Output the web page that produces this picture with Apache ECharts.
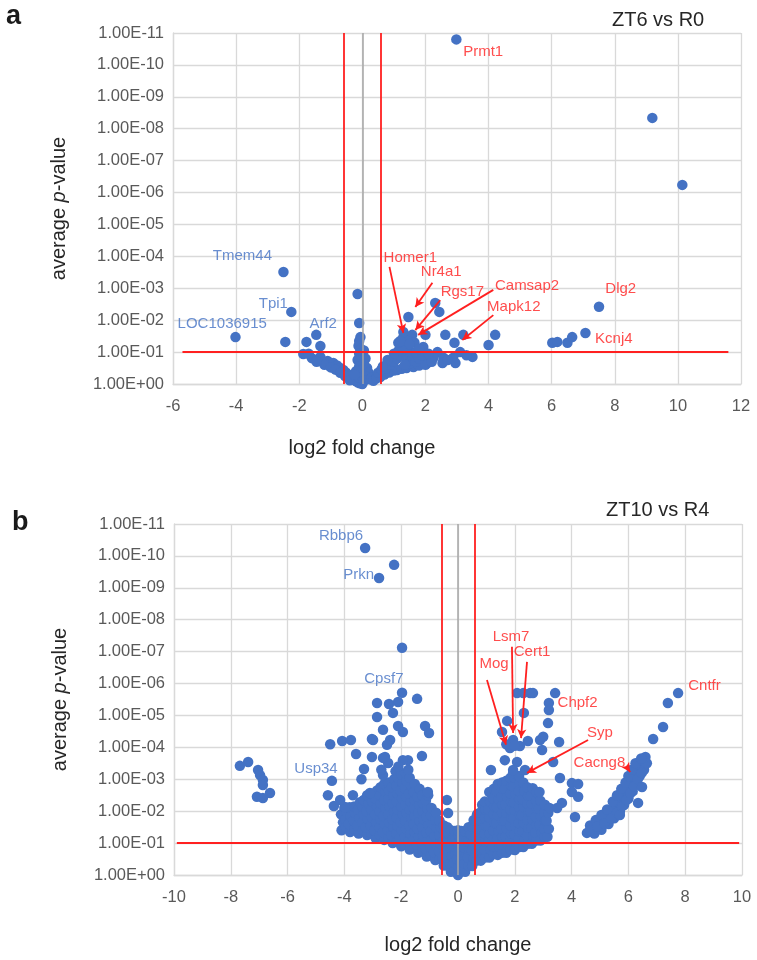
<!DOCTYPE html>
<html>
<head>
<meta charset="utf-8">
<script src="https://cdn.jsdelivr.net/npm/echarts/dist/echarts.min.js"></script>
<style>html,body{margin:0;padding:0;background:#fff;}#c{width:757px;height:960px;}</style>
</head>
<body>
<div id="c"></div>
<script>
// ---------- DATA ----------
// y values are -log10(average p-value)
const yTickLabels = ['1.00E+00','1.00E-01','1.00E-02','1.00E-03','1.00E-04','1.00E-05','1.00E-06','1.00E-07','1.00E-08','1.00E-09','1.00E-10','1.00E-11'];
const xRangeA = [-6, 12];
const xRangeB = [-10, 10];
const foldCut = 0.585;   // log2(1.5)
const pCut = 1;          // p = 0.1
const hLineA = [-5.7, 11.6];
const hLineB = [-9.9, 9.9];

// ZT6 vs R0 : [log2FC, -log10 p]
const pointsA = [
[2.98,10.8],[9.19,8.34],[10.14,6.24],[-2.5,3.51],[-2.25,2.26],[-4.02,1.47],[-2.44,1.32],[-1.46,1.54],[-1.77,1.32],[-1.33,1.19],[-1.87,0.94],[-1.6,0.81],[-1.33,0.85],[-1.1,0.72],[-0.92,0.66],[-0.8,0.58],[-0.7,0.5],[-0.6,0.44],[-0.52,0.36],[-0.45,0.3],[-0.38,0.22],[-0.3,0.15],[-0.22,0.1],[-0.15,0.05],[-0.08,0.02],[0,0],
[-1.2,0.6],[-1.0,0.52],[-0.85,0.45],[-0.7,0.35],[-0.55,0.25],[-0.4,0.12],[-1.45,0.7],[-1.7,0.95],
[-0.15,2.82],[-0.1,1.91],[-0.06,1.47],[-0.1,1.35],[-0.12,1.2],[-0.05,1.1],[0.05,1.05],[-0.1,0.95],[0,0.85],[0.1,0.8],[-0.15,0.75],[0.05,0.65],[-0.1,0.55],[0.15,0.5],[0,0.45],[-0.2,0.4],[0.2,0.35],[0.1,0.25],[-0.1,0.2],[0.05,0.1],[0.25,0.15],[-0.25,0.3],[0.3,0.2],
[0.35,0.1],[0.45,0.18],[0.57,0.22],[0.7,0.3],[0.85,0.36],[1.0,0.42],[1.1,0.44],[1.25,0.48],[1.4,0.5],[1.62,0.53],[1.8,0.58],[2.06,0.66],[2.0,0.6],
[0.5,0.35],[0.6,0.45],[0.75,0.5],[0.9,0.6],[1.0,0.7],[1.1,0.8],[1.2,0.9],[1.3,1.0],[1.15,1.05],[1.0,0.95],[1.4,0.75],[1.5,0.65],[1.6,0.85],[1.7,0.7],[1.8,0.8],[1.55,1.0],[1.7,1.0],[1.4,1.1],[1.25,1.2],[1.14,1.29],[1.3,1.47],[1.58,1.54],[1.45,1.35],[1.65,1.3],[1.3,1.63],[1.46,2.1],[1.93,1.16],[2.0,1.54],[2.31,2.54],[2.44,2.26],[2.63,1.54],[3.2,1.54],[2.92,1.29],[4.0,1.22],[4.21,1.54],[2.38,1.0],[3.1,1.0],[3.49,0.85],[2.57,0.82],[2.88,0.82],[2.25,0.82],[2.54,0.66],[2.95,0.66],[2.2,0.7],[2.7,0.75],[3.3,0.9],[1.9,0.9],[2.1,0.95],
[1.2,1.35],[1.5,1.25],[1.8,1.1],[1.35,0.6],[0.8,0.75],[0.65,0.55],
[6.02,1.29],[6.18,1.32],[6.5,1.29],[6.65,1.47],[7.07,1.6],[7.5,2.42]
];

// ZT10 vs R4 : scattered significant genes
const scatterB = [
[-3.27,10.25],[-2.25,9.72],[-2.78,9.31],[-1.97,7.12],
[-1.97,5.71],[-2.11,5.42],[-2.43,5.36],[-2.85,5.39],[-2.29,5.08],[-1.44,5.52],[-2.85,4.95],[-2.64,4.55],[-2.11,4.67],[-1.94,4.48],[-1.16,4.67],[-1.02,4.45],[-3.03,4.26],[-2.39,4.23],[-2.5,4.08],[-4.5,4.1],[-4.08,4.2],[-3.77,4.23],[-3.59,3.79],[-3.03,3.7],[-3.31,3.32],[-2.57,3.7],[-2.46,3.51],[-1.27,3.73],[-2.64,3.13],[-1.76,3.6],[-3.1,2.57],[-0.39,2.35],[-0.35,1.94],[-1.06,2.6],[-4.58,2.5],[-4.44,2.95],[-4.37,2.16],[-3.98,2.13],
[-2.64,3.67],[-2.99,4.23],[-1.94,3.6],[-2.1,3.4],[-2.7,3.3],[-3.4,3.0],[-3.7,2.5],[-4.15,2.35],
[-7.68,3.42],[-7.39,3.54],[-7.04,3.29],[-6.97,3.13],[-6.87,2.98],[-6.87,2.82],[-6.62,2.57],[-7.08,2.45],[-6.87,2.41],
[7.75,5.7],[7.39,5.39],[7.22,4.64],[6.87,4.26],
[2.08,5.7],[2.3,5.7],[2.54,5.7],[2.64,5.7],[3.42,5.7],[3.2,5.39],[3.2,5.17],[2.32,5.08],[3.17,4.76],[1.73,4.83],[1.55,4.48],[1.94,4.23],[1.83,3.98],[2.18,4.04],[2.46,4.2],[2.89,4.23],[3.0,4.33],[3.56,4.17],[2.96,3.92],[3.35,3.54],[1.65,3.6],[2.08,3.54],[2.36,3.29],[1.94,3.29],[1.16,3.29],[3.59,3.04],[4.01,2.88],[4.23,2.85],[4.01,2.6],[4.23,2.45],[3.66,2.26],[3.49,2.1],[4.12,1.82],[1.7,4.1],[2.0,4.05]
];
// ZT10 vs R4 : dense central cloud
const cloudB = [
[-4.1,1.4],[-4.05,1.65],[-4.12,1.9],[-4.0,2.1],
[-3.95,1.5],[-3.97,1.75],[-3.93,2.0],
[-3.8,1.35],[-3.85,1.6],[-3.78,1.85],[-3.82,2.12],
[-3.65,1.45],[-3.67,1.7],[-3.63,1.95],[-3.66,2.15],
[-3.5,1.3],[-3.55,1.55],[-3.48,1.8],[-3.52,2.05],[-3.45,2.28],
[-3.35,1.4],[-3.37,1.65],[-3.33,1.9],[-3.36,2.15],[-3.32,2.35],
[-3.2,1.25],[-3.25,1.5],[-3.18,1.75],[-3.22,2.0],[-3.15,2.25],[-3.2,2.5],
[-3.05,1.3],[-3.07,1.55],[-3.03,1.8],[-3.06,2.05],[-3.02,2.3],[-3.05,2.55],
[-2.9,1.15],[-2.95,1.4],[-2.88,1.65],[-2.92,1.9],[-2.85,2.15],[-2.9,2.4],[-2.85,2.65],
[-2.75,1.25],[-2.77,1.5],[-2.73,1.75],[-2.76,2.0],[-2.72,2.25],[-2.75,2.5],[-2.73,2.75],
[-2.6,1.1],[-2.65,1.35],[-2.58,1.6],[-2.62,1.85],[-2.55,2.1],[-2.6,2.35],[-2.55,2.6],[-2.6,2.85],
[-2.45,1.15],[-2.47,1.4],[-2.43,1.65],[-2.46,1.9],[-2.42,2.15],[-2.45,2.4],[-2.43,2.65],[-2.46,2.9],
[-2.3,1.0],[-2.35,1.25],[-2.28,1.5],[-2.32,1.75],[-2.25,2.0],[-2.3,2.25],[-2.27,2.5],[-2.33,2.75],[-2.25,3.0],[-2.2,3.25],
[-2.15,1.05],[-2.17,1.3],[-2.13,1.55],[-2.16,1.8],[-2.12,2.05],[-2.15,2.3],[-2.13,2.55],[-2.16,2.8],[-2.12,3.05],
[-2.0,0.9],[-2.05,1.15],[-1.98,1.4],[-2.02,1.65],[-1.95,1.9],[-2.0,2.15],[-1.97,2.4],[-2.03,2.65],[-1.95,2.9],[-2.0,3.15],
[-1.85,0.95],[-1.87,1.2],[-1.83,1.45],[-1.86,1.7],[-1.82,1.95],[-1.85,2.2],[-1.83,2.45],[-1.86,2.7],[-1.82,2.95],[-1.85,3.2],
[-1.7,0.8],[-1.75,1.05],[-1.68,1.3],[-1.72,1.55],[-1.65,1.8],[-1.7,2.05],[-1.67,2.3],[-1.73,2.55],[-1.65,2.8],[-1.7,3.05],[-1.75,3.3],
[-1.55,0.85],[-1.57,1.1],[-1.53,1.35],[-1.56,1.6],[-1.52,1.85],[-1.55,2.1],[-1.53,2.35],[-1.56,2.6],[-1.52,2.85],
[-1.4,0.7],[-1.45,0.95],[-1.38,1.2],[-1.42,1.45],[-1.35,1.7],[-1.4,1.95],[-1.37,2.2],[-1.43,2.45],[-1.35,2.7],
[-1.25,0.75],[-1.27,1.0],[-1.23,1.25],[-1.26,1.5],[-1.22,1.75],[-1.25,2.0],[-1.23,2.25],[-1.26,2.5],
[-1.1,0.58],[-1.15,0.83],[-1.08,1.08],[-1.12,1.33],[-1.05,1.58],[-1.1,1.83],[-1.07,2.08],[-1.13,2.33],[-1.05,2.5],
[-0.95,0.62],[-0.97,0.87],[-0.93,1.12],[-0.96,1.37],[-0.92,1.62],[-0.95,1.87],[-0.93,2.1],
[-0.8,0.47],[-0.85,0.72],[-0.78,0.97],[-0.82,1.22],[-0.75,1.47],[-0.8,1.72],[-0.77,1.95],
[-0.65,0.5],[-0.67,0.75],[-0.63,1.0],[-0.66,1.25],[-0.62,1.5],[-0.65,1.7],
[-0.5,0.3],[-0.55,0.55],[-0.48,0.8],[-0.52,1.05],[-0.45,1.3],[-0.5,1.55],
[-0.37,0.3],[-0.39,0.55],[-0.35,0.8],[-0.38,1.05],[-0.34,1.3],[-0.37,1.5],
[-0.25,0.1],[-0.28,0.35],[-0.22,0.6],[-0.27,0.85],[-0.2,1.1],[-0.25,1.4],
[-0.12,0.15],[-0.14,0.4],[-0.1,0.65],[-0.13,0.9],[-0.09,1.15],[-0.12,1.38],
[0,0],[0.02,0.25],[-0.03,0.5],[0.01,0.75],[-0.02,1.0],[0.03,1.25],[0,1.4],
[0.12,0.15],[0.1,0.4],[0.14,0.65],[0.11,0.9],[0.15,1.15],[0.12,1.38],
[0.25,0.1],[0.22,0.35],[0.28,0.6],[0.24,0.85],[0.3,1.1],[0.25,1.38],
[0.37,0.3],[0.35,0.55],[0.39,0.8],[0.36,1.05],[0.4,1.3],[0.37,1.5],
[0.5,0.28],[0.55,0.53],[0.48,0.78],[0.52,1.03],[0.45,1.28],[0.5,1.53],[0.55,1.72],
[0.65,0.45],[0.63,0.7],[0.67,0.95],[0.64,1.2],[0.68,1.45],[0.65,1.7],[0.67,1.9],
[0.8,0.45],[0.85,0.7],[0.78,0.95],[0.82,1.2],[0.75,1.45],[0.8,1.7],[0.77,1.95],[0.85,2.2],
[0.95,0.55],[0.93,0.8],[0.97,1.05],[0.94,1.3],[0.98,1.55],[0.95,1.8],[0.97,2.05],[0.94,2.3],
[1.1,0.55],[1.15,0.8],[1.08,1.05],[1.12,1.3],[1.05,1.55],[1.1,1.8],[1.07,2.05],[1.13,2.3],[1.1,2.6],
[1.25,0.65],[1.23,0.9],[1.27,1.15],[1.24,1.4],[1.28,1.65],[1.25,1.9],[1.27,2.15],[1.24,2.4],[1.26,2.7],
[1.4,0.63],[1.45,0.88],[1.38,1.13],[1.42,1.38],[1.35,1.63],[1.4,1.88],[1.37,2.13],[1.43,2.38],[1.35,2.63],[1.4,2.85],
[1.55,0.7],[1.53,0.95],[1.57,1.2],[1.54,1.45],[1.58,1.7],[1.55,1.95],[1.57,2.2],[1.54,2.45],[1.58,2.7],[1.55,2.9],
[1.7,0.7],[1.75,0.95],[1.68,1.2],[1.72,1.45],[1.65,1.7],[1.7,1.95],[1.67,2.2],[1.73,2.45],[1.65,2.7],[1.7,2.95],
[1.85,0.8],[1.83,1.05],[1.87,1.3],[1.84,1.55],[1.88,1.8],[1.85,2.05],[1.87,2.3],[1.84,2.55],[1.88,2.8],[1.85,3.05],
[2.0,0.78],[2.05,1.03],[1.98,1.28],[2.02,1.53],[1.95,1.78],[2.0,2.03],[1.97,2.28],[2.03,2.53],[1.95,2.78],[2.0,3.05],[1.94,3.2],
[2.15,0.88],[2.13,1.13],[2.17,1.38],[2.14,1.63],[2.18,1.88],[2.15,2.13],[2.17,2.38],[2.14,2.63],[2.18,2.9],[2.15,3.1],
[2.3,0.88],[2.35,1.13],[2.28,1.38],[2.32,1.63],[2.25,1.88],[2.3,2.13],[2.27,2.38],[2.33,2.63],[2.3,2.9],
[2.45,0.98],[2.43,1.23],[2.47,1.48],[2.44,1.73],[2.48,1.98],[2.45,2.23],[2.47,2.48],[2.44,2.75],
[2.6,0.98],[2.65,1.23],[2.58,1.48],[2.62,1.73],[2.55,1.98],[2.6,2.23],[2.57,2.48],[2.63,2.72],
[2.75,1.08],[2.73,1.33],[2.77,1.58],[2.74,1.83],[2.78,2.08],[2.75,2.33],[2.77,2.6],
[2.9,1.08],[2.95,1.33],[2.88,1.58],[2.92,1.83],[2.85,2.08],[2.9,2.33],[2.87,2.6],
[3.05,1.2],[3.03,1.45],[3.07,1.7],[3.04,1.95],[3.06,2.2],
[3.15,1.2],[3.2,1.45],[3.12,1.7],[3.18,1.95],[3.22,2.1]
];
// ZT10 vs R4 : Cacng8 band
const bandB = [
[4.54,1.32],[4.75,1.45],[4.95,1.6],[5.15,1.75],[5.35,1.92],[5.5,2.1],[5.65,2.28],[5.8,2.48],[5.92,2.68],[6.05,2.88],[6.15,3.08],[6.28,3.28],[6.4,3.45],[6.55,3.58],
[4.8,1.3],[5.05,1.42],[5.3,1.6],[5.5,1.78],[5.7,1.98],[5.85,2.2],[6.0,2.4],[6.15,2.62],[6.3,2.85],[6.4,3.1],[6.55,3.3],[6.65,3.5],
[4.65,1.55],[4.85,1.72],[5.05,1.88],[5.25,2.05],[5.45,2.3],[5.6,2.5],[5.75,2.7],[5.9,2.9],[6.0,3.1],[6.12,3.3],[6.25,3.5],
[4.65,1.4],[4.9,1.52],[5.15,1.62],[5.4,1.78],[5.6,1.95],[5.78,2.15],[5.93,2.35],[6.07,2.56],[6.2,2.78],[6.33,3.0],[6.47,3.2],
[6.34,2.26],[6.48,2.76],[5.7,1.88],[6.6,3.7],[6.45,3.65]
];

// gene labels: [name, x, y, up/down]
const labelsA = [
['Prmt1',3.83,10.41,'up'],['Tmem44',-3.8,4.01,'down'],['Tpi1',-2.82,2.51,'down'],['LOC1036915',-4.44,1.88,'down'],['Arf2',-1.24,1.88,'down'],
['Homer1',1.52,3.95,'up'],['Nr4a1',2.5,3.5,'up'],['Rgs17',3.17,2.9,'up'],['Camsap2',5.22,3.08,'up'],['Mapk12',4.8,2.41,'up'],['Dlg2',8.19,2.99,'up'],['Kcnj4',7.97,1.4,'up']
];
const labelsB = [
['Rbbp6',-4.12,10.64,'down'],['Prkn',-3.5,9.4,'down'],['Cpsf7',-2.61,6.14,'down'],['Usp34',-5.0,3.32,'down'],
['Lsm7',1.87,7.46,'up'],['Cert1',2.61,6.99,'up'],['Mog',1.27,6.62,'up'],['Chpf2',4.21,5.39,'up'],['Syp',5.0,4.45,'up'],['Cacng8',4.98,3.51,'up'],['Cntfr',8.68,5.94,'up']
];
// arrows: [x1, y1, x2, y2]
const arrowsA = [
[0.86,3.67,1.30,1.60],[2.22,3.17,1.68,2.41],[2.47,2.63,1.68,1.69],[4.15,2.95,1.77,1.54],[4.15,2.16,3.17,1.38]
];
const arrowsB = [
[1.02,6.11,1.69,4.08],[1.9,7.15,1.94,4.45],[2.43,6.68,2.22,4.29],[4.58,4.23,2.43,3.2],[5.92,3.42,6.06,3.23]
];

// ---------- STYLE ----------
const FONT = '"Liberation Sans", Arial, sans-serif';
const BLUE = '#4472C4', RED = '#FF2020', GRID = '#d9d9d9', TICK = '#595959', DARK = '#262626';

function xAxis(gi, range, nameGap, pad) {
  return {type:'value', gridIndex:gi, min:range[0], max:range[1], interval:2,
    name:'log2 fold change', nameLocation:'middle', nameGap:nameGap,
    nameTextStyle:{fontSize:20, color:DARK, fontFamily:FONT, padding:pad},
    axisLine:{show:true, onZero:false, lineStyle:{color:GRID, width:1.3}},
    axisTick:{show:false},
    axisLabel:{fontSize:16.5, color:TICK, margin:14, fontFamily:FONT},
    splitLine:{show:true, lineStyle:{color:GRID, width:1.3}}};
}
function yAxis(gi) {
  return {type:'value', gridIndex:gi, min:0, max:11, interval:1,
    name:'{n|average }{i|p}{n|-value}', nameLocation:'middle', nameGap:104, nameRotate:90,
    nameTextStyle:{rich:{n:{fontSize:20, color:DARK, fontFamily:FONT}, i:{fontSize:20, fontStyle:'italic', color:DARK, fontFamily:FONT}}},
    axisLine:{show:true, onZero:false, lineStyle:{color:GRID, width:1.3}},
    axisTick:{show:false},
    axisLabel:{formatter:v => yTickLabels[v], fontSize:16.5, color:TICK, margin:9, fontFamily:FONT},
    splitLine:{show:true, lineStyle:{color:GRID, width:1.3}}};
}
function pointSeries(gi, data) {
  return {type:'scatter', xAxisIndex:gi, yAxisIndex:gi, data:data, symbolSize:10.5,
    itemStyle:{color:BLUE, opacity:1}, z:3, silent:true};
}
function zeroSeries(gi) {
  return {type:'scatter', xAxisIndex:gi, yAxisIndex:gi, data:[[0,0]], symbolSize:0, z:2, silent:true,
    markLine:{silent:true, symbol:'none', label:{show:false}, animation:false,
      lineStyle:{color:'#a6a6a6', width:1.5, type:'solid'},
      data:[[{coord:[0,0]},{coord:[0,11]}]]}};
}
function annoSeries(gi, labels, arrows, hLine) {
  const lines = [
    [{coord:[-foldCut,0]},{coord:[-foldCut,11]}],
    [{coord:[foldCut,0]},{coord:[foldCut,11]}],
    [{coord:[hLine[0],pCut]},{coord:[hLine[1],pCut]}]
  ];
  arrows.forEach(a => lines.push([{coord:[a[0],a[1]], symbol:'none'},{coord:[a[2],a[3]], symbol:'arrow', symbolSize:[7,9]}]));
  return {type:'scatter', xAxisIndex:gi, yAxisIndex:gi, symbolSize:1, silent:true, z:5,
    itemStyle:{color:'rgba(0,0,0,0)'},
    data: labels.map(l => ({name:l[0], value:[l[1],l[2]],
      label:{color: l[3]==='up' ? RED : BLUE}})),
    label:{show:true, position:'inside', formatter:'{b}', fontSize:15, fontFamily:FONT},
    markLine:{silent:true, symbol:'none', label:{show:false}, animation:false,
      lineStyle:{color:RED, width:1.8, type:'solid'}, data:lines}};
}

const chart = echarts.init(document.getElementById('c'), null, {renderer:'canvas'});
chart.setOption({
  animation:false,
  backgroundColor:'#fff',
  title:[
    {text:'a', left:6, top:3, padding:0, textStyle:{fontSize:27, fontWeight:'bold', color:'#1a1a1a', fontFamily:FONT}},
    {text:'b', left:12, top:509, padding:0, textStyle:{fontSize:27, fontWeight:'bold', color:'#1a1a1a', fontFamily:FONT}},
    {text:'ZT6 vs R0', left:612, top:10, padding:0, textStyle:{fontSize:20, fontWeight:'normal', color:DARK, fontFamily:FONT}},
    {text:'ZT10 vs R4', left:606, top:500, padding:0, textStyle:{fontSize:20, fontWeight:'normal', color:DARK, fontFamily:FONT}}
  ],
  grid:[
    {left:173, top:33, width:568, height:351},
    {left:174, top:524, width:568, height:351}
  ],
  xAxis:[xAxis(0, xRangeA, 54, [0,190,0,0]), xAxis(1, xRangeB, 60, 0)],
  yAxis:[yAxis(0), yAxis(1)],
  series:[
    zeroSeries(0), pointSeries(0, pointsA), annoSeries(0, labelsA, arrowsA, hLineA),
    zeroSeries(1), pointSeries(1, cloudB.concat(bandB, scatterB)), annoSeries(1, labelsB, arrowsB, hLineB)
  ]
});
</script>
</body>
</html>
